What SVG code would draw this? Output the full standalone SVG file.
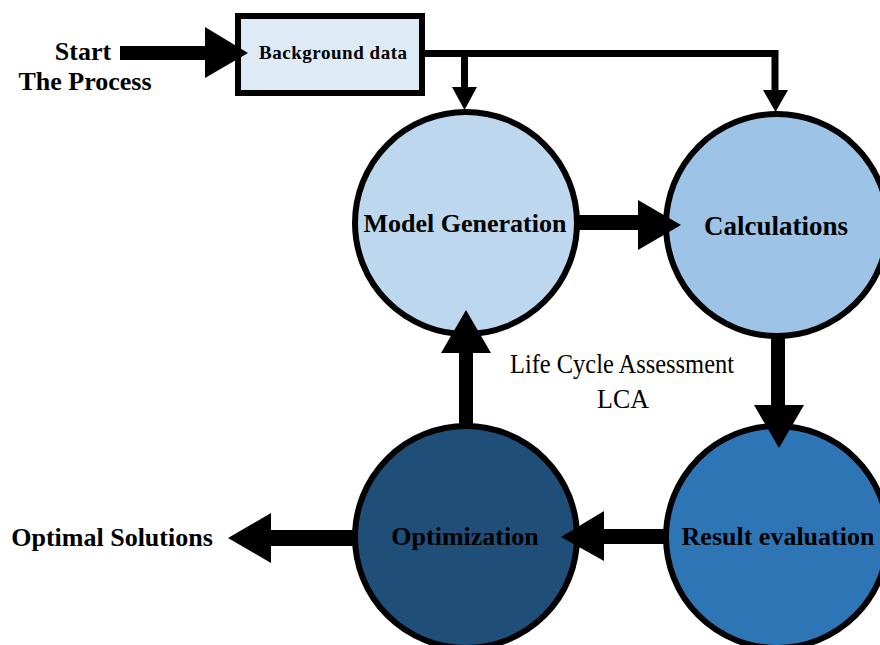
<svg xmlns="http://www.w3.org/2000/svg" width="880" height="645" viewBox="0 0 880 645">
<style>
.b{font-family:"Liberation Serif","Times New Roman",serif;font-weight:bold;fill:#000;text-anchor:middle}
.r{font-family:"Liberation Serif","Times New Roman",serif;fill:#000;text-anchor:middle}
.node{stroke:#000;stroke-width:6}
.k{fill:#000;stroke:none}
.ln{fill:none;stroke:#000}
</style>
<rect width="880" height="645" fill="#fff"/>
<g id="start-label">
<text class="b" x="83" y="60" font-size="26">Start</text>
<text class="b" x="85" y="90" font-size="26">The Process</text>
</g>
<g id="background-data">
<rect class="node" x="238" y="16" width="184" height="77" fill="#DEEAF6" stroke-width="5"/>
<text class="b" x="333" y="59" font-size="19" textLength="148" lengthAdjust="spacing">Background  data</text>
</g>
<g id="model-generation">
<circle class="node" cx="466" cy="223" r="111" fill="#BDD7EE"/>
<text class="b" x="465" y="232" font-size="26">Model Generation</text>
</g>
<g id="calculations">
<circle class="node" cx="777" cy="225" r="111" fill="#9DC3E6"/>
<text class="b" x="776" y="235" font-size="27">Calculations</text>
</g>
<g id="result-evaluation">
<circle class="node" cx="777" cy="537" r="111" fill="#2E75B6"/>
<text class="b" x="778" y="545" font-size="26">Result evaluation</text>
</g>
<g id="optimization">
<circle class="node" cx="466" cy="537" r="111" fill="#1F4E79"/>
<text class="b" x="465" y="545" font-size="26">Optimization</text>
</g>
<g id="lca-label">
<text class="r" x="622" y="373" font-size="27" textLength="224" lengthAdjust="spacingAndGlyphs">Life Cycle Assessment</text>
<text class="r" x="623" y="408" font-size="27" textLength="52" lengthAdjust="spacingAndGlyphs">LCA</text>
</g>
<g id="connectors">
<!-- start -> background -->
<rect class="k" x="120" y="46" width="88" height="14"/>
<polygon class="k" points="205,27 248,53 205,78"/>
<!-- background -> model / calc -->
<polyline class="ln" stroke-width="7" points="422,53.5 775,53.5 775,92"/>
<line class="ln" stroke-width="7" x1="464.5" y1="53" x2="464.5" y2="88"/>
<polygon class="k" points="452,87 477,87 464.5,110"/>
<polygon class="k" points="763,90 788,90 775.5,112"/>
<!-- model -> calc -->
<rect class="k" x="577" y="215" width="64" height="15"/>
<polygon class="k" points="638,200 681,225 638,250"/>
<!-- calc -> result -->
<rect class="k" x="771" y="335" width="14" height="72"/>
<polygon class="k" points="754,405 804,405 779,448"/>
<!-- result -> optimization -->
<rect class="k" x="602" y="529" width="64" height="15"/>
<polygon class="k" points="604,511 561,537 604,561"/>
<!-- optimization -> model -->
<rect class="k" x="459" y="350" width="14" height="78"/>
<polygon class="k" points="441,353 491,353 466,310"/>
<!-- optimization -> optimal solutions -->
<rect class="k" x="268" y="530" width="88" height="16"/>
<polygon class="k" points="271,513 228,538 271,563"/>
</g>
<g id="optimal-solutions">
<text class="b" x="112" y="546" font-size="26">Optimal Solutions</text>
</g>
</svg>
